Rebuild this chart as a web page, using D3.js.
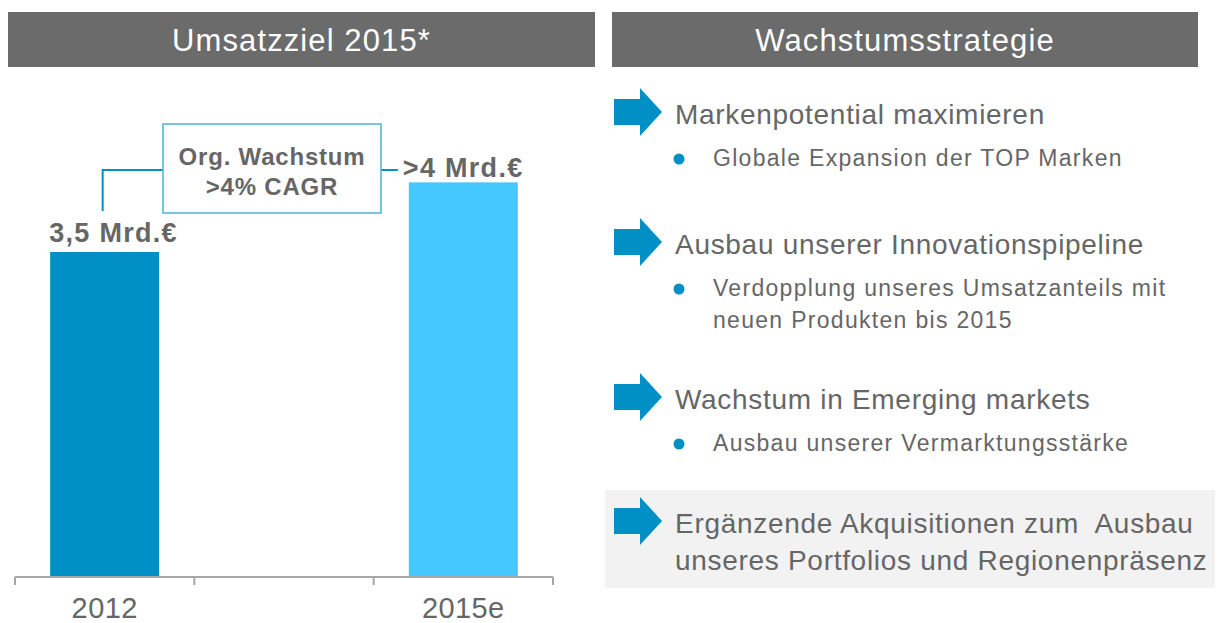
<!DOCTYPE html>
<html>
<head>
<meta charset="utf-8">
<script src="https://cdn.jsdelivr.net/npm/d3@7"></script>
<style>
  body { margin: 0; background: #fff; }
  svg { display: block; font-family: "Liberation Sans", Arial, sans-serif; }
  text.head { white-space: pre; }
</style>
</head>
<body>
<div id="chart"></div>
<script>
// chart data
var categories = ['2012', ' ', '2015e'];
var values = [3.5, null, 4.25];
var valueLabels = ['3,5 Mrd.€', '', '>4 Mrd.€'];
var barColors = ['#0090c6', '#ffffff', '#44c8ff'];
var boxLines = ['Org. Wachstum', '>4% CAGR'];
var leftTitle = 'Umsatzziel 2015*';
var rightTitle = 'Wachstumsstrategie';

// strategy list
var headings = [
  ['Markenpotential maximieren'],
  ['Ausbau unserer Innovationspipeline'],
  ['Wachstum in Emerging markets'],
  ['Ergänzende Akquisitionen zum  Ausbau', 'unseres Portfolios und Regionenpräsenz']
];
var bullets = [
  ['Globale Expansion der TOP Marken'],
  ['Verdopplung unseres Umsatzanteils mit', 'neuen Produkten bis 2015'],
  ['Ausbau unserer Vermarktungsstärke'],
  []
];

var W = 1218, H = 623;
var grey = '#666666';
var blue = '#0090c6';

var svg = d3.select('#chart').append('svg')
  .attr('width', W)
  .attr('height', H);

// header bars
function header(x, w, label) {
  svg.append('rect')
    .attr('x', x).attr('y', 12)
    .attr('width', w).attr('height', 55)
    .attr('fill', '#6b6b6b');
  svg.append('text')
    .attr('x', x + w / 2).attr('y', 51)
    .attr('text-anchor', 'middle')
    .attr('fill', '#fff')
    .attr('font-size', 31)
    .attr('letter-spacing', 1.1)
    .text(label);
}
header(8, 587, leftTitle);
header(612, 586, rightTitle);

// bar chart
var baseY = 577;
var x = d3.scaleBand()
  .domain(categories)
  .range([15, 553])
  .paddingInner(0)
  .paddingOuter(0);
var y = d3.scaleLinear()
  .domain([0, 3.5])
  .range([baseY, 252]);
var barW = 109;

var chart = svg.append('g');
var shown = categories.filter(function (d, i) { return values[i] != null; });
function val(d) { return values[categories.indexOf(d)]; }
function barLeft(d) { return x(d) + (x.bandwidth() - barW) / 2; }

chart.selectAll('rect.bar')
  .data(shown)
  .enter().append('rect')
  .attr('class', 'bar')
  .attr('x', barLeft)
  .attr('y', function (d) { return y(val(d)); })
  .attr('width', barW)
  .attr('height', function (d) { return baseY - y(val(d)); })
  .attr('fill', function (d) { return barColors[categories.indexOf(d)]; });

// value labels: the first sits flush on its bar, the second slightly wider than its bar
chart.selectAll('text.val')
  .data(shown)
  .enter().append('text')
  .attr('class', 'val')
  .attr('x', function (d, i) { return barLeft(d) + (i === 0 ? -1 : -6); })
  .attr('y', function (d, i) { return y(val(d)) - (i === 0 ? 10 : 5); })
  .attr('font-size', 27)
  .attr('font-weight', 'bold')
  .attr('letter-spacing', 1.3)
  .attr('fill', grey)
  .text(function (d) { return valueLabels[categories.indexOf(d)]; });

// axis: line with ticks at band edges, labels centred
var edges = categories.map(function (d) { return x(d); }).concat([x.range()[1]]);
var axisG = chart.append('g').attr('transform', 'translate(0,' + baseY + ')');
axisG.append('line')
  .attr('x1', x.range()[0]).attr('x2', x.range()[1])
  .attr('stroke', '#a6a6a6').attr('stroke-width', 2);
axisG.selectAll('line.edge')
  .data(edges)
  .enter().append('line')
  .attr('class', 'edge')
  .attr('x1', function (d) { return d; }).attr('x2', function (d) { return d; })
  .attr('y1', 0).attr('y2', 8)
  .attr('stroke', '#a6a6a6').attr('stroke-width', 2);

var axis = d3.axisBottom(x).tickSize(0).tickPadding(0);
var labelsG = chart.append('g')
  .attr('transform', 'translate(0,' + baseY + ')')
  .call(axis);
labelsG.select('.domain').remove();
labelsG.selectAll('text')
  .attr('dy', null)
  .attr('y', 41)
  .attr('font-size', 29)
  .attr('letter-spacing', 0.4)
  .attr('font-family', '"Liberation Sans", Arial, sans-serif')
  .attr('fill', grey);

// CAGR box and connector
var bx0 = x(categories[0]) + x.bandwidth() / 2;
var bx2 = barLeft(categories[2]);
var boxX = 163, boxY = 124, boxW = 218, boxH = 89;
var connY = 170;
chart.append('path')
  .attr('d', 'M' + (bx0 - 2) + ',' + 211 + 'V' + connY + 'H' + boxX)
  .attr('fill', 'none').attr('stroke', blue).attr('stroke-width', 2);
chart.append('path')
  .attr('d', 'M' + (boxX + boxW) + ',' + connY + 'H' + (bx2 - 11))
  .attr('fill', 'none').attr('stroke', blue).attr('stroke-width', 2);
chart.append('rect')
  .attr('x', boxX).attr('y', boxY)
  .attr('width', boxW).attr('height', boxH)
  .attr('fill', '#fff')
  .attr('stroke', '#4cb3d9').attr('stroke-width', 1.5);
chart.selectAll('text.box')
  .data(boxLines)
  .enter().append('text')
  .attr('class', 'box')
  .attr('x', boxX + boxW / 2)
  .attr('y', function (d, i) { return 165 + i * 30; })
  .attr('text-anchor', 'middle')
  .attr('font-size', 24)
  .attr('font-weight', 'bold')
  .attr('letter-spacing', 0.8)
  .attr('fill', grey)
  .text(function (d) { return d; });

// strategy list on the right
var arrowY = [112, 242, 397, 521];
svg.append('rect')
  .attr('x', 605).attr('y', 490)
  .attr('width', 610).attr('height', 98)
  .attr('fill', '#f2f2f2');

var items = svg.selectAll('g.item')
  .data(headings)
  .enter().append('g')
  .attr('class', 'item')
  .attr('transform', function (d, i) { return 'translate(0,' + arrowY[i] + ')'; });

items.append('path')
  .attr('d', 'M614,-13H640V-24L662,0L640,24V13H614Z')
  .attr('fill', blue);

items.each(function (lines, i) {
  var g = d3.select(this);
  lines.forEach(function (t, j) {
    g.append('text')
      .attr('class', 'head')
      .attr('x', 675)
      .attr('y', 12 + j * 37)
      .attr('font-size', 28)
      .attr('letter-spacing', 0.7)
      .attr('fill', grey)
      .text(t);
  });
  var b = bullets[i];
  if (b.length) {
    g.append('circle')
      .attr('cx', 679).attr('cy', 47)
      .attr('r', 5.5)
      .attr('fill', blue);
    b.forEach(function (t, j) {
      g.append('text')
        .attr('x', 713)
        .attr('y', 54 + j * 32)
        .attr('font-size', 23)
        .attr('letter-spacing', 1.3)
        .attr('fill', grey)
        .text(t);
    });
  }
});
</script>
</body>
</html>
